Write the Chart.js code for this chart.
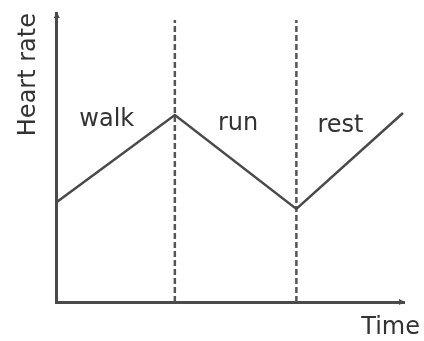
<!DOCTYPE html>
<html>
<head>
<meta charset="utf-8">
<script src="https://cdn.jsdelivr.net/npm/chart.js@4"></script>
<style>
  body { margin: 0; background: #fff; }
  #wrap { width: 424px; height: 341px; }
</style>
</head>
<body>
<div id="wrap"><canvas id="myChart"></canvas></div>
<script>
// data (arbitrary units)
var times = [0, 34, 69, 99.7];
var rates = [34.6, 64.7, 32.2, 65.4];
var phaseBounds = [34, 69];
var boundTop = 97.6;
var phaseNames = ['walk', 'run', 'rest'];
var phaseLabelX = [14.4, 52.2, 81.7];
var phaseLabelY = [61, 59.5, 58.8];

var ink = '#4a4a4a';
var textInk = '#333';
var fontFam = '"DejaVu Sans", sans-serif';

var linePts = [];
times.forEach(function (t, i) {
  linePts.push({x: t, y: rates[i]});
});

var sets = [{
  label: 'Heart rate',
  data: linePts,
  borderColor: ink,
  borderWidth: 2.5,
  pointRadius: 0,
  tension: 0
}];
phaseBounds.forEach(function (b) {
  sets.push({
    label: 'bound',
    data: [{x: b, y: 0}, {x: b, y: boundTop}],
    borderColor: '#555',
    borderWidth: 2.5,
    borderDash: [6, 3],
    pointRadius: 0
  });
});

// text + arrow heads
const sketchText = {
  id: 'sketchText',
  afterDatasetsDraw(chart) {
    const ctx = chart.ctx;
    const xs = chart.scales.x, ys = chart.scales.y;
    ctx.save();
    ctx.fillStyle = textInk;
    ctx.font = '24px ' + fontFam;
    ctx.textAlign = 'center';
    ctx.textBaseline = 'alphabetic';
    phaseNames.forEach(function (n, i) {
      ctx.fillText(n, xs.getPixelForValue(phaseLabelX[i]), ys.getPixelForValue(phaseLabelY[i]));
    });
    ctx.textAlign = 'right';
    ctx.fillText('Time', xs.right + 16, ys.bottom + 32);
    // small arrow heads
    ctx.fillStyle = ink;
    ctx.beginPath();
    ctx.moveTo(xs.left - 3, ys.top + 5);
    ctx.lineTo(xs.left, ys.top - 1);
    ctx.lineTo(xs.left + 3, ys.top + 5);
    ctx.fill();
    ctx.beginPath();
    ctx.moveTo(xs.right - 5, ys.bottom - 3);
    ctx.lineTo(xs.right + 1, ys.bottom);
    ctx.lineTo(xs.right - 5, ys.bottom + 3);
    ctx.fill();
    ctx.restore();
  }
};

const config = {
  type: 'line',
  data: { datasets: sets },
  options: {
    responsive: true,
    maintainAspectRatio: false,
    animation: false,
    layout: { padding: { left: 14, top: 13, right: 20, bottom: 39 } },
    plugins: {
      legend: { display: false },
      tooltip: { enabled: false }
    },
    scales: {
      x: {
        type: 'linear',
        min: 0,
        max: 100,
        grid: { display: false, drawTicks: false },
        ticks: { display: false },
        border: { display: true, color: ink, width: 3 }
      },
      y: {
        min: 0,
        max: 100,
        grid: { display: false, drawTicks: false },
        ticks: { display: false },
        border: { display: true, color: ink, width: 3 },
        title: {
          display: true,
          text: 'Heart rate',
          align: 'end',
          color: textInk,
          font: { size: 24, family: fontFam },
          padding: { top: 0, bottom: 14 }
        }
      }
    }
  },
  plugins: [sketchText]
};

const myChart = new Chart(document.getElementById('myChart'), config);
</script>
</body>
</html>
